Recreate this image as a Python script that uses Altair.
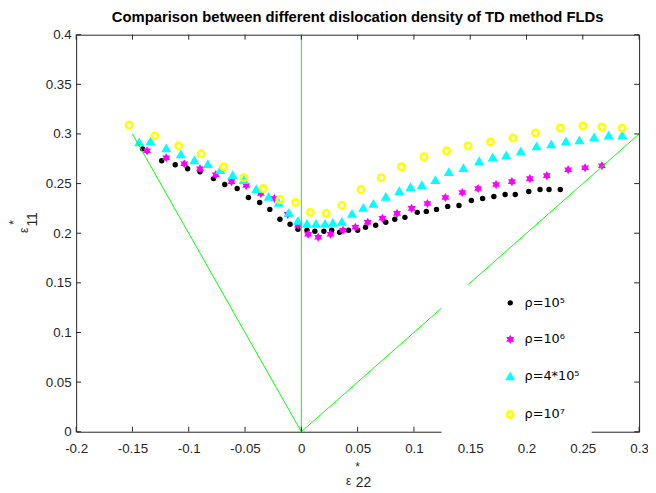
import altair as alt
import pandas as pd

TITLE = "Comparison between different dislocation density of TD method FLDs"
SERIES = ["ρ=10⁵", "ρ=10⁶", "ρ=4*10⁵", "ρ=10⁷"]

# rho = 1e5 (black dots)
x_r5 = [-0.141, -0.124, -0.112, -0.101, -0.090, -0.078, -0.068, -0.057, -0.047, -0.037,
        -0.028, -0.019, -0.010, -0.003, 0.005, 0.012, 0.020, 0.027, 0.034, 0.042,
        0.050, 0.057, 0.066, 0.075, 0.083, 0.092, 0.103, 0.111, 0.120, 0.130,
        0.140, 0.151, 0.161, 0.171, 0.181, 0.190, 0.202, 0.212, 0.220, 0.230]
y_r5 = [0.285, 0.273, 0.269, 0.265, 0.262, 0.255, 0.249, 0.245, 0.236, 0.231,
        0.224, 0.214, 0.209, 0.204, 0.203, 0.202, 0.202, 0.203, 0.201, 0.203,
        0.203, 0.206, 0.208, 0.211, 0.214, 0.216, 0.221, 0.222, 0.224, 0.227,
        0.228, 0.233, 0.235, 0.237, 0.239, 0.239, 0.242, 0.244, 0.244, 0.244]

# rho = 1e6 (magenta hexagrams)
x_r6 = [-0.137, -0.120, -0.104, -0.090, -0.076, -0.062, -0.049, -0.036, -0.024, -0.012,
        -0.003, 0.006, 0.015, 0.026, 0.037, 0.048, 0.059, 0.072, 0.085, 0.098,
        0.112, 0.128, 0.143, 0.157, 0.173, 0.187, 0.203, 0.218, 0.237, 0.252, 0.267]
y_r6 = [0.283, 0.276, 0.270, 0.265, 0.259, 0.252, 0.248, 0.240, 0.235, 0.219,
        0.208, 0.199, 0.196, 0.199, 0.203, 0.206, 0.211, 0.215, 0.220, 0.225,
        0.230, 0.236, 0.241, 0.245, 0.249, 0.252, 0.255, 0.258, 0.264, 0.266, 0.268]

# rho = 4e5 (cyan triangles)
x_r45 = [-0.144, -0.134, -0.120, -0.107, -0.095, -0.083, -0.072, -0.061, -0.051, -0.040,
         -0.029, -0.020, -0.011, -0.003, 0.005, 0.013, 0.021, 0.028, 0.036, 0.045,
         0.055, 0.064, 0.075, 0.087, 0.097, 0.107, 0.119, 0.131, 0.144, 0.158,
         0.170, 0.182, 0.195, 0.209, 0.222, 0.235, 0.247, 0.260, 0.273, 0.285]
y_r45 = [0.292, 0.293, 0.286, 0.280, 0.274, 0.270, 0.264, 0.259, 0.254, 0.245,
         0.237, 0.231, 0.221, 0.213, 0.210, 0.210, 0.210, 0.211, 0.212, 0.220,
         0.226, 0.230, 0.237, 0.243, 0.247, 0.249, 0.254, 0.262, 0.266, 0.273,
         0.277, 0.279, 0.283, 0.288, 0.290, 0.293, 0.294, 0.297, 0.299, 0.299]

# rho = 1e7 (yellow open circles)
x_r7 = [-0.153, -0.130, -0.109, -0.089, -0.069, -0.051, -0.034, -0.019, -0.005, 0.008,
        0.022, 0.036, 0.053, 0.071, 0.089, 0.109, 0.129, 0.148, 0.168, 0.188,
        0.208, 0.230, 0.250, 0.267, 0.285]
y_r7 = [0.309, 0.298, 0.288, 0.280, 0.267, 0.256, 0.245, 0.234, 0.231, 0.221,
        0.220, 0.228, 0.244, 0.256, 0.267, 0.277, 0.283, 0.288, 0.292, 0.296,
        0.301, 0.306, 0.308, 0.307, 0.306]

# reference strain-path lines
line_names = ["uniaxial", "uniaxial", "plane", "plane", "biaxial", "biaxial"]
line_x = [-0.15, 0.0, 0.0, 0.0, 0.0, 0.3]
line_y = [0.3, 0.0, 0.0, 0.4, 0.0, 0.3]

X_TICKS = [-0.2, -0.15, -0.1, -0.05, 0, 0.05, 0.1, 0.15, 0.2, 0.25, 0.3]
Y_TICKS = [0, 0.05, 0.1, 0.15, 0.2, 0.25, 0.3, 0.35, 0.4]

HEX = ("M0,-1L0.289,-0.5L0.866,-0.5L0.577,0L0.866,0.5L0.289,0.5L0,1L-0.289,0.5"
       "L-0.866,0.5L-0.577,0L-0.866,-0.5L-0.289,-0.5Z")
FILLS = ["#000000", "#ff00ff", "#00ffff", "transparent"]
STROKES = ["#000000", "#ff00ff", "#00ffff", "#ffff00"]
SHAPES = ["circle", HEX, "triangle-up", "circle"]
SIZES = [30, 85, 105, 42]
SWIDTHS = [0, 0, 0, 2.6]

FONT = "Liberation Sans"
AX = "#262626"
W, H = 570, 402
TICK_FS = 13.5

rows = []
for name, xs, ys in zip(SERIES, [x_r5, x_r6, x_r45, x_r7], [y_r5, y_r6, y_r45, y_r7]):
    rows += [{"x": a, "y": b, "series": name} for a, b in zip(xs, ys)]
pts = pd.DataFrame(rows)
lines = pd.DataFrame({"x": line_x, "y": line_y, "g": line_names})

xscale = alt.Scale(domain=[-0.2, 0.3], nice=False, zero=False)
yscale = alt.Scale(domain=[0, 0.4], nice=False, zero=False)
XAXIS = alt.Axis(values=X_TICKS, labelExpr="'' + datum.value", title=None, ticks=False,
                 tickSize=0, domain=False, grid=False, labelPadding=10, labelFontSize=TICK_FS,
                 labelFont=FONT, labelColor=AX, labelFlush=False)
YAXIS = alt.Axis(values=Y_TICKS, labelExpr="'' + datum.value", title=None, ticks=False,
                 tickSize=0, domain=False, grid=False, labelPadding=5, labelFontSize=TICK_FS,
                 labelFont=FONT, labelColor=AX, labelFlush=False)
leg = alt.Legend(title=None)


def sc(rng):
    return alt.Scale(type="ordinal", domain=SERIES, range=rng)


points = alt.Chart(pts).mark_point(opacity=1, filled=True).encode(
    x=alt.X("x:Q", scale=xscale, axis=XAXIS),
    y=alt.Y("y:Q", scale=yscale, axis=YAXIS),
    shape=alt.Shape("series:N", scale=sc(SHAPES), legend=leg),
    fill=alt.Fill("series:N", scale=sc(FILLS), legend=leg),
    stroke=alt.Stroke("series:N", scale=sc(STROKES), legend=leg),
    size=alt.Size("series:N", scale=sc(SIZES), legend=leg),
    strokeWidth=alt.StrokeWidth("series:N", scale=sc(SWIDTHS), legend=leg),
)

guides = alt.Chart(lines).mark_line(color="#00ff00", strokeWidth=1).encode(
    x=alt.X("x:Q", scale=xscale, axis=XAXIS),
    y=alt.Y("y:Q", scale=yscale, axis=YAXIS),
    detail="g:N",
)

xt = pd.DataFrame({"x": X_TICKS})
yt = pd.DataFrame({"y": Y_TICKS})
tx = alt.X("x:Q", scale=xscale, axis=XAXIS)
ty = alt.Y("y:Q", scale=yscale, axis=YAXIS)
bottom_ticks = alt.Chart(xt).mark_rule(color=AX).encode(x=tx, y=alt.value(H), y2=alt.value(H - 5))
top_ticks = alt.Chart(xt).mark_rule(color=AX).encode(x=tx, y=alt.value(0), y2=alt.value(5))
left_ticks = alt.Chart(yt).mark_rule(color=AX).encode(y=ty, x=alt.value(0), x2=alt.value(5))
right_ticks = alt.Chart(yt).mark_rule(color=AX).encode(y=ty, x=alt.value(W), x2=alt.value(W - 5))

one = pd.DataFrame({"k": [0]})


def label(s, px, py, size, angle=0):
    return alt.Chart(one).mark_text(
        text=s, font=FONT, fontSize=size, angle=angle, align="center",
        baseline="middle", color=AX).encode(x=alt.value(px), y=alt.value(py))


xlab = [label("*", 285, 438, 12), label("ε", 276, 452, 12), label("22", 291, 454, 14)]
ylab = [label("*", -63, 190, 12, 270), label("ε", -53, 198, 12, 270), label("11", -44, 187, 14, 270)]

chart = alt.layer(
    points, guides, bottom_ticks, top_ticks, left_ticks, right_ticks, *xlab, *ylab
).properties(
    width=W, height=H,
    title=alt.TitleParams(TITLE, font=FONT, fontSize=15, fontWeight="bold",
                          color="#000000", anchor="middle", offset=3),
    autosize=alt.AutoSizeParams(type="none"),
    padding={"left": 69, "top": 24, "right": 9, "bottom": 59},
).configure_view(
    stroke=AX, strokeWidth=1
).configure_legend(
    orient="none", legendX=370, legendY=253, fillColor="white", padding=12,
    rowPadding=23, labelFont="DejaVu Sans", labelFontSize=13, labelColor="#000000",
    symbolOffset=51, labelOffset=8
)

chart.save("out.html", embed_options={"renderer": "svg", "actions": False})
